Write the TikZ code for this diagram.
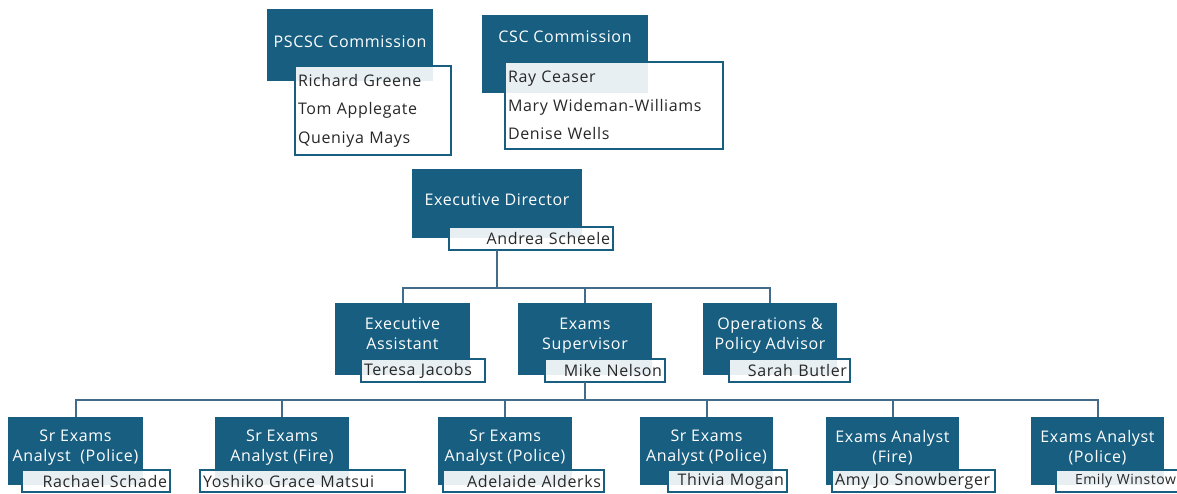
\documentclass[tikz,border=0pt]{standalone}
\usepackage{fontspec}
\setmainfont{Open Sans}[LetterSpace=4]
\usetikzlibrary{positioning}
\definecolor{titleblue}{RGB}{24,94,128}
\definecolor{linkblue}{RGB}{66,108,138}
\definecolor{nametext}{RGB}{40,40,40}

\begin{document}
\begin{tikzpicture}[x=1pt, y=-1pt,
    rolebox/.style={fill=titleblue, text=white, anchor=north west, align=center, inner xsep=2pt, inner ysep=0pt, outer sep=0pt,
        font=\fontsize{16}{20}\selectfont, minimum height=68pt, text depth=10pt},
    person/.style={draw=titleblue, line width=1.5pt, fill=white, fill opacity=.9, text opacity=1, text=nametext,
        inner xsep=3pt, inner ysep=0pt, outer sep=0pt, minimum height=23pt, align=right, font=\fontsize{16}{18}\selectfont},
    members/.style={person, align=left, font=\fontsize{16}{28.5}\selectfont},
    link/.style={draw=linkblue, line width=2pt}
]
    \useasboundingbox (0,0) rectangle (1177,494);
    \node[rolebox, minimum width=166pt, minimum height=72pt, text depth=6pt] (pscsc) at (267,9) {PSCSC Commission};
    \node[rolebox, minimum width=166pt, minimum height=78pt, text depth=34pt] (csc) at (482,15) {CSC Commission};
    \node[rolebox, minimum width=170pt, minimum height=69pt, text depth=8pt] (ed) at (412,169) {Executive Director};
    \node[rolebox, minimum width=135pt, minimum height=72pt] (ea) at (335,303) {Executive\\Assistant};
    \node[rolebox, minimum width=134pt, minimum height=72pt] (es) at (518,303) {Exams\\Supervisor};
    \node[rolebox, minimum width=134pt, minimum height=72pt] (opa) at (703,303) {Operations \&\\Policy Advisor};
    \node[rolebox, minimum width=135pt] (sea1) at (8,417) {Sr Exams\\Analyst \ (Police)};
    \node[rolebox, minimum width=134pt] (sea2) at (215,417) {Sr Exams\\Analyst (Fire)};
    \node[rolebox, minimum width=134pt] (sea3) at (438,417) {Sr Exams\\Analyst (Police)};
    \node[rolebox, minimum width=133pt] (sea4) at (640,417) {Sr Exams\\Analyst (Police)};
    \node[rolebox, minimum width=133pt] (ea5) at (826,417) {Exams Analyst\\(Fire)};
    \node[rolebox, minimum width=133pt] (ea6) at (1031,417) {Exams Analyst\\(Police)};

    \node[members, text width=150pt, minimum height=89pt, below right=-15pt and 28pt of pscsc.south west] (pscscn) {Richard Greene\\Tom Applegate\\Queniya Mays};
    \node[members, text width=212pt, minimum height=87pt, below right=-31pt and 23pt of csc.south west] (cscn) {Ray Ceaser\\Mary Wideman-Williams\\Denise Wells};
    \node[person, text width=158pt, below right=-11pt and 37pt of ed.south west] (edn) {Andrea Scheele};
    \node[person, text width=118pt, align=left, below right=-16pt and 26pt of ea.south west] (ean) {Teresa Jacobs};
    \node[person, text width=114pt, below right=-16pt and 27pt of es.south west] (esn) {Mike Nelson};
    \node[person, text width=115pt, below right=-16pt and 26pt of opa.south west] (opan) {Sarah Butler};
    \node[person, text width=142pt, minimum height=22pt, below right=-15pt and 14pt of sea1.south west] (sea1n) {Rachael Schade};
    \node[person, text width=199pt, minimum height=22pt, align=left, below right=-15pt and -15pt of sea2.south west] (sea2n) {Yoshiko Grace Matsui};
    \node[person, text width=155pt, minimum height=22pt, below right=-15pt and 5pt of sea3.south west] (sea3n) {Adelaide Alderks};
    \node[person, text width=113pt, minimum height=22pt, below right=-15pt and 28pt of sea4.south west] (sea4n) {Thivia Mogan};
    \node[person, text width=157pt, minimum height=22pt, align=left, below right=-15pt and 6pt of ea5.south west] (ea5n) {Amy Jo Snowberger};
    \node[person, text width=117pt, minimum height=22pt, font=\fontsize{14}{18}\selectfont, below right=-15pt and 25pt of ea6.south west] (ea6n) {Emily Winstow};

    \coordinate (bus1) at (0,288);
    \coordinate (bus2) at (0,400);
    \draw[link] (ed.south |- edn.south) -- (ed |- bus1) -| (ea.north);
    \draw[link] (ed |- bus1) -| (es.north);
    \draw[link] (ed |- bus1) -| (opa.north);
    \draw[link] (es.south |- esn.south) -- (es |- bus2);
    \foreach \n in {sea1,sea2,sea3,sea4,ea5,ea6}
        \draw[link] (es |- bus2) -| (\n.north);
\end{tikzpicture}
\end{document}
